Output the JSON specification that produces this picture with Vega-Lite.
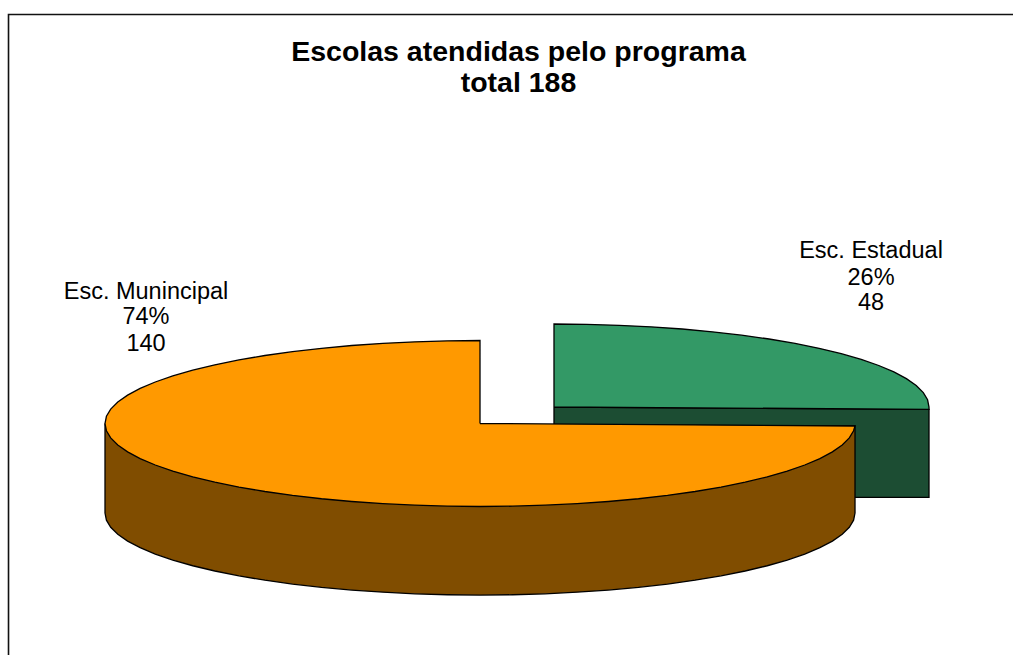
{"$schema":"https://vega.github.io/schema/vega-lite/v6.json","width":1013,"height":655,"padding":0,"autosize":{"type":"none"},"background":"white","view":{"stroke":null},
"title":{"text":["Escolas atendidas pelo programa","total 188"],"font":"Liberation Sans","fontSize":28.5,"fontWeight":"bold","color":"#000","anchor":"middle","dx":12,"dy":97.5,"offset":0,"lineHeight":31},
"datasets":{
"frame":[{"u":-1.2573,"v":-0.6173},{"u":-1.2573,"v":1.0907},{"u":1.4213,"v":1.0907}],
"greenWall":[{"u":0.1973,"v":0.044},{"u":1.1973,"v":0.0379},{"u":1.1973,"v":-0.1968},{"u":0.1973,"v":-0.1968},{"u":0.1973,"v":0.044}],
"greenTop":[{"u":0.1973,"v":0.044},{"u":0.1973,"v":0.2653},{"u":0.2845,"v":0.2645},{"u":0.3709,"v":0.2619},{"u":0.4561,"v":0.2578},{"u":0.5393,"v":0.252},{"u":0.6199,"v":0.2446},{"u":0.6973,"v":0.2356},{"u":0.7709,"v":0.2253},{"u":0.8401,"v":0.2135},{"u":0.9044,"v":0.2005},{"u":0.9633,"v":0.1863},{"u":1.0165,"v":0.1709},{"u":1.0633,"v":0.1547},{"u":1.1036,"v":0.1375},{"u":1.137,"v":0.1197},{"u":1.1632,"v":0.1013},{"u":1.1821,"v":0.0824},{"u":1.1935,"v":0.0633},{"u":1.1973,"v":0.044},{"u":1.1973,"v":0.0379},{"u":0.1973,"v":0.044}],
"brownWall":[{"u":-1,"v":0},{"u":1,"v":-0.0067},{"u":1,"v":-0.2387},{"u":0.9962,"v":-0.2578},{"u":0.9848,"v":-0.2767},{"u":0.9659,"v":-0.2953},{"u":0.9397,"v":-0.3135},{"u":0.9063,"v":-0.3311},{"u":0.866,"v":-0.3481},{"u":0.8192,"v":-0.3641},{"u":0.766,"v":-0.3793},{"u":0.7071,"v":-0.3933},{"u":0.6428,"v":-0.4062},{"u":0.5736,"v":-0.4179},{"u":0.5,"v":-0.4281},{"u":0.4226,"v":-0.4369},{"u":0.342,"v":-0.4442},{"u":0.2588,"v":-0.4499},{"u":0.1736,"v":-0.4541},{"u":0.0872,"v":-0.4566},{"u":0,"v":-0.4574},{"u":-0.0872,"v":-0.4566},{"u":-0.1736,"v":-0.4541},{"u":-0.2588,"v":-0.4499},{"u":-0.342,"v":-0.4442},{"u":-0.4226,"v":-0.4369},{"u":-0.5,"v":-0.4281},{"u":-0.5736,"v":-0.4179},{"u":-0.6428,"v":-0.4062},{"u":-0.7071,"v":-0.3933},{"u":-0.766,"v":-0.3793},{"u":-0.8192,"v":-0.3641},{"u":-0.866,"v":-0.3481},{"u":-0.9063,"v":-0.3311},{"u":-0.9397,"v":-0.3135},{"u":-0.9659,"v":-0.2953},{"u":-0.9848,"v":-0.2767},{"u":-0.9962,"v":-0.2578},{"u":-1,"v":-0.2387},{"u":-1,"v":0}],
"orangeTop":[{"u":0,"v":0},{"u":0,"v":0.2213},{"u":-0.0872,"v":0.2205},{"u":-0.1736,"v":0.2179},{"u":-0.2588,"v":0.2138},{"u":-0.342,"v":0.208},{"u":-0.4226,"v":0.2006},{"u":-0.5,"v":0.1916},{"u":-0.5736,"v":0.1813},{"u":-0.6428,"v":0.1695},{"u":-0.7071,"v":0.1565},{"u":-0.766,"v":0.1423},{"u":-0.8192,"v":0.1269},{"u":-0.866,"v":0.1107},{"u":-0.9063,"v":0.0935},{"u":-0.9397,"v":0.0757},{"u":-0.9659,"v":0.0573},{"u":-0.9848,"v":0.0384},{"u":-0.9962,"v":0.0193},{"u":-1,"v":0},{"u":-0.9962,"v":-0.0193},{"u":-0.9848,"v":-0.0384},{"u":-0.9659,"v":-0.0573},{"u":-0.9397,"v":-0.0757},{"u":-0.9063,"v":-0.0935},{"u":-0.866,"v":-0.1107},{"u":-0.8192,"v":-0.1269},{"u":-0.766,"v":-0.1423},{"u":-0.7071,"v":-0.1565},{"u":-0.6428,"v":-0.1695},{"u":-0.5736,"v":-0.1813},{"u":-0.5,"v":-0.1916},{"u":-0.4226,"v":-0.2006},{"u":-0.342,"v":-0.208},{"u":-0.2588,"v":-0.2138},{"u":-0.1736,"v":-0.2179},{"u":-0.0872,"v":-0.2205},{"u":0,"v":-0.2213},{"u":0.0872,"v":-0.2205},{"u":0.1736,"v":-0.2179},{"u":0.2588,"v":-0.2138},{"u":0.342,"v":-0.208},{"u":0.4226,"v":-0.2006},{"u":0.5,"v":-0.1916},{"u":0.5736,"v":-0.1813},{"u":0.6428,"v":-0.1695},{"u":0.7071,"v":-0.1565},{"u":0.766,"v":-0.1423},{"u":0.8192,"v":-0.1269},{"u":0.866,"v":-0.1107},{"u":0.9063,"v":-0.0935},{"u":0.9397,"v":-0.0757},{"u":0.9659,"v":-0.0573},{"u":0.9848,"v":-0.0384},{"u":0.9962,"v":-0.0193},{"u":1,"v":-0.0067},{"u":0,"v":0}],
"labels":[{"u":1.0427,"v":0.46,"label":"Esc. Estadual"},{"u":1.0427,"v":0.388,"label":"26%"},{"u":1.0427,"v":0.3213,"label":"48"},{"u":-0.8907,"v":0.3507,"label":"Esc. Munincipal"},{"u":-0.8907,"v":0.284,"label":"74%"},{"u":-0.8907,"v":0.212,"label":"140"}]
},
"encoding":{
"x":{"field":"u","type":"quantitative","axis":null,"scale":{"domain":[-1.28,1.4213],"nice":false,"zero":false}},
"y":{"field":"v","type":"quantitative","axis":null,"scale":{"domain":[-0.6173,1.1293],"nice":false,"zero":false}}
},
"layer":[
{"data":{"name":"frame"},"mark":{"type":"line","order":false,"stroke":"#111","strokeWidth":1.6,"clip":false}},
{"data":{"name":"greenWall"},"mark":{"type":"line","order":false,"fill":"#1C4D33","stroke":"#000","strokeWidth":1.3}},
{"data":{"name":"greenTop"},"mark":{"type":"line","order":false,"fill":"#339966","stroke":"#000","strokeWidth":1.3}},
{"data":{"name":"brownWall"},"mark":{"type":"line","order":false,"fill":"#804D00","stroke":"#000","strokeWidth":1.3}},
{"data":{"name":"orangeTop"},"mark":{"type":"line","order":false,"fill":"#FF9900","stroke":"#000","strokeWidth":1.3}},
{"data":{"name":"labels"},"mark":{"type":"text","font":"Liberation Sans","fontSize":23.5,"color":"#000","baseline":"middle","align":"center"},"encoding":{"text":{"field":"label","type":"nominal"}}}
]}
